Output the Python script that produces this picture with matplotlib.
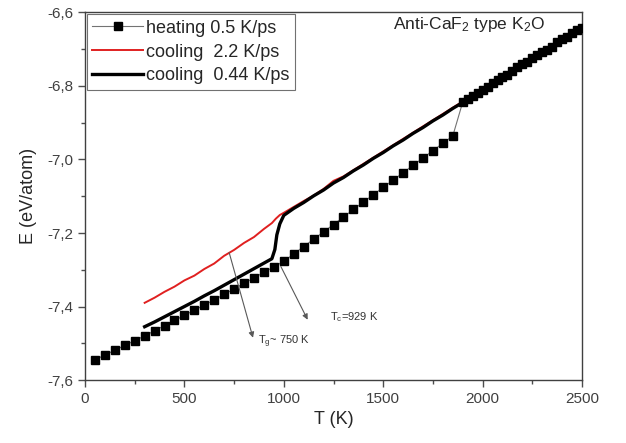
import matplotlib
matplotlib.use("Agg")
import matplotlib.pyplot as plt
from matplotlib.ticker import MultipleLocator, FuncFormatter

plt.rcParams['font.family'] = ['Liberation Sans', 'DejaVu Sans']
plt.rcParams['mathtext.fontset'] = 'custom'
plt.rcParams['mathtext.rm'] = 'Liberation Sans'
plt.rcParams['mathtext.it'] = 'Liberation Sans'

# heating run, 0.5 K/ps (sampled more densely after melting)
T_heat = [50, 100, 150, 200, 250, 300, 350, 400, 450, 500, 550, 600, 650, 700, 750,
          800, 850, 900, 950, 1000, 1050, 1100, 1150, 1200, 1250, 1300, 1350, 1400,
          1450, 1500, 1550, 1600, 1650, 1700, 1750, 1800, 1850, 1900, 1925, 1950,
          1975, 2000, 2025, 2050, 2075, 2100, 2125, 2150, 2175, 2200, 2225, 2250,
          2275, 2300, 2325, 2350, 2375, 2400, 2425, 2450, 2475, 2500]
E_heat = [-7.545, -7.532, -7.519, -7.506, -7.493, -7.480, -7.466, -7.452, -7.438,
          -7.424, -7.410, -7.396, -7.382, -7.367, -7.352, -7.337, -7.322, -7.307,
          -7.292, -7.277, -7.257, -7.237, -7.217, -7.197, -7.177, -7.157, -7.136,
          -7.116, -7.096, -7.076, -7.056, -7.036, -7.016, -6.996, -6.976, -6.956,
          -6.936, -6.844, -6.836, -6.826, -6.819, -6.810, -6.803, -6.791, -6.785,
          -6.776, -6.769, -6.760, -6.749, -6.740, -6.734, -6.725, -6.716, -6.708,
          -6.702, -6.693, -6.681, -6.672, -6.667, -6.657, -6.648, -6.641]

# cooling run, 2.2 K/ps
T_fast = [300, 350, 400, 450, 500, 550, 600, 650, 700, 750, 800, 850, 900, 940, 960,
          980, 1000, 1050, 1100, 1150, 1200, 1250, 1300, 1350, 1400, 1450, 1500, 1550,
          1600, 1650, 1700, 1750, 1800, 1850, 1900, 1950, 2000, 2050, 2100, 2150, 2200,
          2250, 2300, 2350, 2400, 2450, 2500]
E_fast = [-7.390, -7.376, -7.360, -7.346, -7.329, -7.316, -7.298, -7.283, -7.262,
          -7.246, -7.227, -7.211, -7.189, -7.173, -7.161, -7.151, -7.145, -7.129,
          -7.113, -7.098, -7.080, -7.058, -7.046, -7.029, -7.012, -6.995, -6.978,
          -6.961, -6.944, -6.927, -6.910, -6.893, -6.876, -6.859, -6.842, -6.825,
          -6.808, -6.788, -6.774, -6.757, -6.737, -6.722, -6.706, -6.690, -6.670,
          -6.655, -6.638]

# cooling run, 0.44 K/ps
T_slow = [300, 350, 400, 450, 500, 550, 600, 650, 700, 750, 800, 850, 900, 940, 955,
          965, 980, 1000, 1050, 1100, 1150, 1200, 1250, 1300, 1350, 1400, 1450, 1500,
          1550, 1600, 1650, 1700, 1750, 1800, 1850, 1900, 1950, 2000, 2050, 2100, 2150,
          2200, 2250, 2300, 2350, 2400, 2450, 2500]
E_slow = [-7.455, -7.442, -7.428, -7.414, -7.400, -7.386, -7.371, -7.357, -7.342,
          -7.327, -7.312, -7.297, -7.282, -7.270, -7.245, -7.205, -7.175, -7.152,
          -7.133, -7.117, -7.099, -7.083, -7.064, -7.049, -7.031, -7.015, -6.997,
          -6.981, -6.963, -6.947, -6.929, -6.913, -6.895, -6.879, -6.861, -6.845,
          -6.827, -6.811, -6.793, -6.777, -6.760, -6.742, -6.726, -6.708, -6.694,
          -6.673, -6.658, -6.640]

fig = plt.figure(figsize=(6.26, 4.43), dpi=100)
ax = fig.add_axes([0.1358, 0.1422, 0.7939, 0.8296])

ax.plot(T_heat, E_heat, color='0.45', lw=0.8, marker='s', ms=6,
        mfc='black', mec='black', label='heating 0.5 K/ps', zorder=3)
ax.plot(T_fast, E_fast, color='#e02020', lw=1.4, label='cooling  2.2 K/ps', zorder=2)
ax.plot(T_slow, E_slow, color='black', lw=2.4, label='cooling  0.44 K/ps', zorder=2)

ax.set_xlim(0, 2500)
ax.set_ylim(-7.6, -6.6)
ax.xaxis.set_major_locator(MultipleLocator(500))
ax.xaxis.set_minor_locator(MultipleLocator(250))
ax.yaxis.set_major_locator(MultipleLocator(0.2))
ax.yaxis.set_minor_locator(MultipleLocator(0.1))
ax.yaxis.set_major_formatter(FuncFormatter(lambda v, p: ('%.1f' % v).replace('.', ',')))
ax.tick_params(which='major', direction='out', length=5, width=1, labelsize=11,
               color='0.3', labelcolor='0.25')
ax.tick_params(which='minor', direction='out', length=3, width=1, color='0.3')
for s in ax.spines.values():
    s.set_linewidth(1.0)
    s.set_color('0.25')

ax.set_xlabel('T (K)', fontsize=13, color='0.15')
ax.set_ylabel('E (eV/atom)', fontsize=13, color='0.15', labelpad=7)

ax.text(0.62, 0.966, 'Anti-CaF$_2$ type K$_2$O', transform=ax.transAxes,
        fontsize=12.5, va='center', ha='left', color='0.15')

arrow = dict(arrowstyle='-|>', color='0.35', lw=0.8, mutation_scale=8, shrinkA=0, shrinkB=0)
ax.annotate('', xy=(845, -7.485), xytext=(725, -7.253), arrowprops=arrow)
ax.text(870, -7.495, 'T$_g$~ 750 K', fontsize=8, va='center', ha='left', color='0.2')
ax.annotate('', xy=(1120, -7.436), xytext=(985, -7.291), arrowprops=arrow)
ax.text(1230, -7.43, 'T$_c$=929 K', fontsize=8, va='center', ha='left', color='0.2')

leg = ax.legend(loc='upper left', fontsize=13, frameon=True, fancybox=False,
                edgecolor='0.3', borderaxespad=0.1, borderpad=0.3,
                labelspacing=0.38, handlelength=2.8, handletextpad=0.2)
leg.get_frame().set_linewidth(0.8)
for t in leg.get_texts():
    t.set_color('0.15')

fig.savefig('out.png', dpi=100)
